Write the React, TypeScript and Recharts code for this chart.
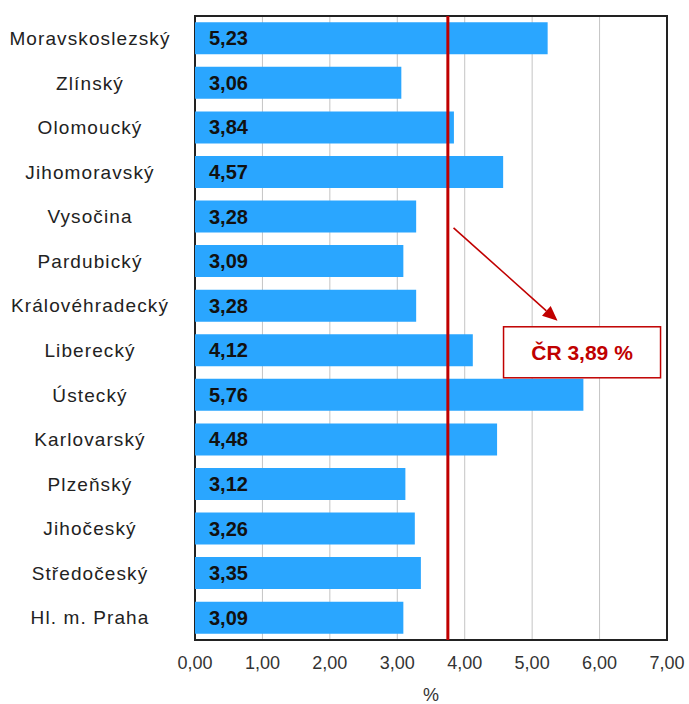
import React from 'react';
import {
  BarChart,
  Bar,
  XAxis,
  YAxis,
  CartesianGrid,
  ReferenceLine,
  ReferenceArea,
  ReferenceDot,
  LabelList,
} from 'recharts';

const regions = [
  'Moravskoslezský',
  'Zlínský',
  'Olomoucký',
  'Jihomoravský',
  'Vysočina',
  'Pardubický',
  'Královéhradecký',
  'Liberecký',
  'Ústecký',
  'Karlovarský',
  'Plzeňský',
  'Jihočeský',
  'Středočeský',
  'Hl. m. Praha',
];
const values = [5.23, 3.06, 3.84, 4.57, 3.28, 3.09, 3.28, 4.12, 5.76, 4.48, 3.12, 3.26, 3.35, 3.09];
const xTicks = [0, 1, 2, 3, 4, 5, 6, 7];
const crLabel = 'ČR 3,89 %';
const crLinePos = 3.75;
const boxCenterX = 5.74;
const boxCategory = 'Liberecký';

const data = regions.map((name, i) => ({ name, value: values[i] }));

const FONT = '"Liberation Sans", Arial, sans-serif';
const fmt = (v: number) => v.toFixed(2).replace('.', ',');

const YTick = (props: any) => {
  const { y, payload } = props;
  return (
    <text
      x={90}
      y={y}
      dy="0.35em"
      textAnchor="middle"
      fontSize={19}
      letterSpacing={1.1}
      fill="#222"
      fontFamily={FONT}
    >
      {payload.value}
    </text>
  );
};

const CalloutShape = (props: any) => {
  const { cx, cy } = props;
  const w = 157;
  const h = 51;
  const left = cx - w / 2;
  const top = cy - h / 2 + 2;
  const tipX = left + 54;
  const tipY = top - 6;
  const tailX = tipX - 104;
  const tailY = tipY - 93;
  const ang = Math.atan2(tipY - tailY, tipX - tailX);
  const len = 15;
  const hw = 6.5;
  const bx = tipX - len * Math.cos(ang);
  const by = tipY - len * Math.sin(ang);
  const p1 = `${bx - hw * Math.sin(ang)},${by + hw * Math.cos(ang)}`;
  const p2 = `${bx + hw * Math.sin(ang)},${by - hw * Math.cos(ang)}`;
  return (
    <g>
      <line x1={tailX} y1={tailY} x2={bx} y2={by} stroke="#C00000" strokeWidth={1.6} />
      <polygon points={`${tipX},${tipY} ${p1} ${p2}`} fill="#C00000" />
      <rect x={left} y={top} width={w} height={h} fill="#fff" stroke="#C00000" strokeWidth={1.5} />
      <text
        x={cx}
        y={top + h / 2}
        dy="0.35em"
        textAnchor="middle"
        fontSize={21}
        fontWeight="bold"
        fill="#C00000"
        fontFamily={FONT}
      >
        {crLabel}
      </text>
    </g>
  );
};

export default function App() {
  return (
    <div style={{ position: 'absolute', left: 0, top: 0, width: 689, height: 704, background: '#fff' }}>
      <BarChart
        width={689}
        height={704}
        data={data}
        layout="vertical"
        margin={{ top: 16, right: 22, bottom: 0, left: 0 }}
        barCategoryGap="14%"
      >
        <CartesianGrid horizontal={false} stroke="#c4c4c4" strokeWidth={1} />
        <XAxis
          type="number"
          domain={[0, 7]}
          ticks={xTicks}
          tickFormatter={fmt}
          axisLine={false}
          tickLine={false}
          tickSize={0}
          tickMargin={16}
          height={64}
          tick={{ fontSize: 18, fill: '#333', fontFamily: FONT }}
          label={{ value: '%', position: 'insideBottom', offset: 3, fontSize: 18, fill: '#333', fontFamily: FONT }}
        />
        <YAxis
          type="category"
          dataKey="name"
          width={195}
          axisLine={false}
          tickLine={false}
          tick={<YTick />}
          interval={0}
        />
        <Bar dataKey="value" fill="#2AA6FF" isAnimationActive={false}>
          <LabelList
            dataKey="value"
            position="insideLeft"
            offset={14}
            formatter={(v: any) => fmt(Number(v))}
            style={{ fontSize: 20, fontWeight: 'bold', fill: '#111', fontFamily: FONT }}
          />
        </Bar>
        <ReferenceArea x1={0} x2={7} fill="none" stroke="#222" strokeWidth={2} ifOverflow="visible" />
        <ReferenceLine x={crLinePos} stroke="#C00000" strokeWidth={3} />
        <ReferenceDot x={boxCenterX} y={boxCategory} r={0} shape={<CalloutShape />} ifOverflow="visible" />
      </BarChart>
    </div>
  );
}
